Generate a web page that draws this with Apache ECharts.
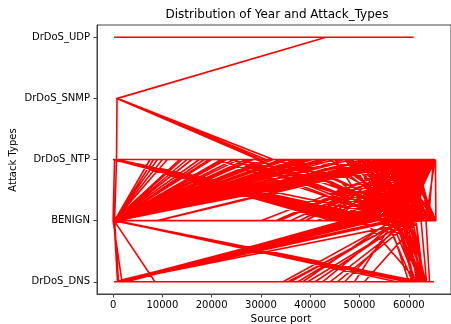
<!DOCTYPE html>
<html>
<head>
<meta charset="utf-8">
<script src="https://cdn.jsdelivr.net/npm/echarts@6/dist/echarts.min.js"></script>
<style>html,body{margin:0;padding:0;background:#fff}#c{width:451px;height:324px}</style>
</head>
<body>
<div id="c"></div>
<script>
// Category order (first appearance in the data)
const categories = ['DrDoS_DNS', 'BENIGN', 'DrDoS_NTP', 'DrDoS_SNMP', 'DrDoS_UDP'];
const xTickValues = [0, 10000, 20000, 30000, 40000, 50000, 60000];
const yTickValues = [0, 1, 2, 3, 4];

// Phase 1: DNS capture (types are indices into categories)
const dnsPhasePorts = [900,48000,300,61500,1200,49500,58500,62000,59000,200,8500,600,49000,100,60500,34500,57000,63000,1000,50000,400,62500,37500,58000,61000,800,56000,60000,41000,59500,62800,1500,50500,65500,500,57500,44000,60000,63500,700,51000,61800,51000,62000,300,1100,61200,1300,57500,62300,47000,58800,63200,65100,200,51500,600,59500,900,200,55500,60800,38500,56500,61500,62600,1100,48500,58000,61000,35500,59000,100,62000,1400,53500,60200,63400,42500,57800,62900,800,62500,0];
const dnsPhaseTypes = [0,1,1,0,0,1,1,0,1,1, 0,0,1,1,0,0,1,0,0,1, 1,0,0,1,0,0,1,0,0,1, 0,0,1,1,1,0,0,1,0,0, 1,0,0,1,1,0,0,0,1,0, 0,1,0,0,0,1,1,0,0,1, 1,0,0,1,1,0,0,1,1,0, 0,1,1,0,0,1,1,0,0,1, 0,0,1,1];

// Phase 1b: more DNS capture rows as [port, type]
const dnsPhaseMore = [
  [1800,0],[47500,1],[59000,1],[61800,0],
  [2200,0],[48500,1],[60500,1],[62400,0],
  [1600,0],[49500,1],[57500,1],[61000,0],
  [2500,0],[47000,1],[61500,1],[63000,0],
  [1200,0],[50500,1],[58500,1],[62200,0],
  [2000,0],[48000,1],[62500,1],[63600,0],
  [1000,0],[51500,1],[59500,1],[60500,0],
  [2800,0],[49000,1],[56500,1],[61500,0],
  [1500,0],[52500,1],[60000,1],[62800,0],
  [2300,0],[48800,1],[63500,1],[64200,0],
  [900,0],[50000,1],[58000,1],[61200,0],
  [1900,0],[47800,1],[61000,1],[62000,0],
  [36000,0],[58500,1],[62600,0],[39500,0],[59800,1],[61600,0],
  [45500,0],[60800,1],[63300,0],[49000,0],[57000,1],[62400,0],
  [0,1]
];

// Phase 2: NTP capture
const ntpPhasePorts = [300,47000,500,62500,58000,61000,600,48500,63500,52000,200,9000,400,49500,64000,55000,62000,300,7500,100,46500,60500,59500,65400,65500,57000,200,11000,500,51000,58500,63000,60000,48000,63800,700,47500,0,64500,56000,61500,62000,54000,400,50000,59000,64000,65000,300,48800,62800,53000,45000,61000,100,13500,800,55500,63200,57500,60800,65200,52500,400,8200,300,47800,61800,58500,64200,60000,500,34000,600,49000,56500,62500,59500,200,63000,33800,60000,54500,64800,37800,62000,61500,58000,400,46800,65300,63500,57500,100,10000,200,50500,62600,56000,48000,64500,61000,9000,59000,59800,63600,500,42000,300,48200,60500,62800,55000,51500,64000,600,49200,63000,0,27000,57000,61200,60200,64600,300,15000,400,47200,58800,63800,62200,58000,65000,53500,50000,65400,60000,200,22000,500,52500,63400,61000,56000,500,38000,700];
const ntpPhaseTypes = [2,1,1,2,1,2,2,1,2,1, 1,2,2,1,2,1,2,1,2,2, 1,2,1,2,1,2,1,2,2,1, 2,1,2,1,2,2,1,1,2,1, 2,1,2,2,1,2,1,2,2,1, 2,1,2,1,1,2,2,1,2,1, 2,1,2,1,2,2,1,2,1,2, 1,1,2,2,1,2,1,2,1,2, 1,2,1,2,1,2,1,2,2,1, 2,1,2,1,2,2,1,2,1,2, 1,2,1,2,1,2,1,2,2,1, 2,1,2,1,2,2,1,2,1,2, 1,2,1,2,1,2,2,1,2,1, 2,1,2,1,2,1,2,1,2,2, 1,2,1,2,1,2,2];

// Phase 2b: more NTP capture rows as [port, type]
const ntpPhaseMore = [
  [400,2],[45000,1],[200,1],[16000,2],
  [600,2],[50500,1],[300,1],[19500,2],
  [100,2],[53000,1],[500,1],[23000,2],
  [800,2],[44500,1],[100,1],[25500,2],
  [300,2],[48000,1],[700,1],[28500,2],
  [500,2],[55500,1],[200,1],[31500,2],
  [200,2],[46000,1],[400,1],[35500,2],
  [700,2],[51500,1],[0,1],[39500,2],
  [100,2],[49000,1],[600,1],[43500,2],
  [900,2],[47000,1],[300,1],[47000,2],
  [400,2],[54000,1],[100,1],[51000,2],
  [600,2],[45500,1],[500,1],[54500,2],
  [200,2],[52000,1],[200,1],[57500,2],
  [800,2],[48500,1],[400,1],[60000,2],
  [0,2],[50000,1],[800,1],[62000,2],
  [500,2],[46500,1],[300,1],[63500,2],
  [300,2],[53500,1],[0,1],[64800,2],
  [700,2],[47500,1],[500,1],[61000,2],
  [100,2],[56500,1],[200,1],[59000,2],
  [600,2],[49500,1],[700,1],[56000,2],
  [21000,2],[58000,1],[26000,2],[61500,1],[33000,2],[63000,1],[37000,2],[55000,1],
  [41000,2],[64500,1],[29000,2],[59500,1],[44000,2],[62500,1],[24000,2],[57000,1],
  [47000,2],[65000,1],[35000,2],[60500,1],
  [30000,1],[62000,2],[36000,1],[64000,2],[41500,1],[59000,2],[45000,1],[65200,2],
  [39000,1],[61000,2],[33000,1],[63500,2],[43000,1],[57500,2],[47500,1],[64500,2],
  [52000,1],[58500,2],[61500,1],[50000,2],[60500,1],[55500,2],[49500,1],[62500,2],
  [57000,1],[47500,2],[60500,1],[64000,2],[53500,1],[59500,2],[65300,1],[56500,2],
  [51000,1],[63000,2],[58500,1],[60500,2],[62000,1],[54000,2],[64800,1],[61500,2],
  [48500,1],[57000,2],[60000,1],[65000,2],[55500,1],[62800,2],[59000,1],[52500,2],
  [61000,1],[58000,2],[50500,1],[64400,2],[61000,1],[59800,2],[57500,1],[63800,2],
  [54500,1],[61200,2],[60500,1],[56000,2],[65500,1],[60200,2],[58000,1],[65400,2],
  [59500,1],[53000,2],[61800,1],[62400,2],[60800,1],
  [700,2]
];

// Phase 2c: further NTP capture rows as [port, type]
const ntpPhaseLate = [
  [300,1],[14000,2],[52000,2],[60000,1],
  [100,1],[17500,2],[57500,2],[49000,1],
  [500,1],[18500,2],[63000,2],[56500,1],
  [200,1],[20000,2],[54000,2],[62000,1],
  [400,1],[22500,2],[60500,2],[52500,1],
  [0,1],[24500,2],[48500,2],[58500,1],
  [600,1],[27000,2],[64500,2],[50500,1],
  [300,1],[28000,2],[56000,2],[63500,1],
  [100,1],[30500,2],[62000,2],[55000,1],
  [500,1],[32500,2],[50500,2],[61000,1],
  [200,1],[34500,2],[58000,2],[53500,1],
  [700,1],[37000,2],[65000,2],[57000,1],
  [0,1],[38500,2],[53000,2],[64000,1],
  [400,1],[40500,2],[61500,2],[51500,1],
  [300,1],[42500,2],[55500,2],[59500,1],
  [100,1],[45000,2],[63500,2],[54500,1],
  [500,1],[48500,2],[57000,2],[62500,1],
  [200,1],[52500,2],[60000,2],[48000,1],
  [600,1],[55000,2],[51500,2],[60500,1],
  [0,1],[58000,2],[64000,2],[56000,1],
  [700,2]
];

// Phase 3: SNMP and UDP captures
const snmpUdpPorts = [800,29500,700,31000,800,32500,600,30000,900,43200,200,61000];
const snmpUdpTypes = [3,2,3,2,3,2,3,2,3,4,4,4];

const seriesData = []
  .concat(dnsPhasePorts.map((p, i) => [p, dnsPhaseTypes[i]]))
  .concat(dnsPhaseMore)
  .concat(ntpPhasePorts.map((p, i) => [p, ntpPhaseTypes[i]]))
  .concat(ntpPhaseMore)
  .concat(ntpPhaseLate)
  .concat(snmpUdpPorts.map((p, i) => [p, snmpUdpTypes[i]]));

const FONT = '"DejaVu Sans", sans-serif';
const AX = '#444';
const chart = echarts.init(document.getElementById('c'), null, {renderer: 'canvas'});
chart.setOption({
  animation: false,
  backgroundColor: '#fff',
  grid: {left: 97, top: 25, width: 360, height: 269, show: true, borderColor: AX, borderWidth: 1, backgroundColor: 'transparent'},
  graphic: [
    {type: 'text', x: 277, y: 14.5, style: {text: 'Distribution of Year and Attack_Types', font: '12px ' + FONT, fill: '#000', align: 'center', verticalAlign: 'middle'}},
    {type: 'text', x: 281, y: 319, style: {text: 'Source port', font: '10.5px ' + FONT, fill: '#000', align: 'center', verticalAlign: 'middle'}},
    {type: 'text', x: 13, y: 160, rotation: Math.PI / 2, style: {text: 'Attack Types', font: '10px ' + FONT, fill: '#000', align: 'center', verticalAlign: 'middle'}}
  ],
  xAxis: {
    type: 'value', min: -3265, max: 68565,
    axisLine: {show: true, onZero: false, lineStyle: {color: AX, width: 1}},
    axisTick: {show: true, length: 3.5, customValues: xTickValues, lineStyle: {color: AX}},
    axisLabel: {customValues: xTickValues, margin: 6, fontSize: 10, fontFamily: FONT, color: '#000',
      formatter: v => String(Math.round(v))},
    splitLine: {show: false}
  },
  yAxis: {
    type: 'value', min: -0.2, max: 4.2,
    axisLine: {show: true, onZero: false, lineStyle: {color: AX, width: 1}},
    axisTick: {show: true, length: 3.5, customValues: yTickValues, lineStyle: {color: AX}},
    axisLabel: {customValues: yTickValues, margin: 7, fontSize: 10, fontFamily: FONT, color: '#000',
      formatter: v => categories[Math.round(v)]},
    splitLine: {show: false}
  },
  series: [{
    type: 'line', data: seriesData, symbol: 'none', showSymbol: false,
    lineStyle: {color: '#ff0000', width: 1.6}, clip: true
  }]
});
</script>
</body>
</html>
